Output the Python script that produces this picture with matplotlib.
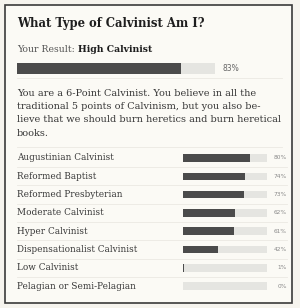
import matplotlib
matplotlib.use("Agg")
import matplotlib.pyplot as plt
from matplotlib.patches import Rectangle

# Data

title = "What Type of Calvinist Am I?"
result_label = "Your Result: "
result_name = "High Calvinist"
result_value = 83

description = [
    "You are a 6-Point Calvinist. You believe in all the",
    "traditional 5 points of Calvinism, but you also be-",
    "lieve that we should burn heretics and burn heretical",
    "books.",
]

categories = [
    "Augustinian Calvinist",
    "Reformed Baptist",
    "Reformed Presbyterian",
    "Moderate Calvinist",
    "Hyper Calvinist",
    "Dispensationalist Calvinist",
    "Low Calvinist",
    "Pelagian or Semi-Pelagian",
]
scores = [80, 74, 73, 62, 61, 42, 1, 0]

# Style
W, H = 300, 308
SERIF = "DejaVu Serif"
DARK = "#4b4b4b"
LIGHT = "#e5e5e1"
TEXT = "#383838"
RULE = "#ebe9e2"


def fx(px):
    return px / W


def fy(py):
    return 1 - py / H


fig = plt.figure(figsize=(W / 100, H / 100), dpi=100)
fig.patch.set_facecolor("#f6f4ee")

# background axes in pixel coordinates
bg = fig.add_axes([0, 0, 1, 1])
bg.set_xlim(0, W)
bg.set_ylim(H, 0)
bg.axis("off")

bg.add_patch(Rectangle((5, 5), 287, 298, facecolor="#fbfaf5",
                       edgecolor="#3a3a3a", linewidth=1.2))

bg.text(17, 24, title, fontsize=8.4, fontweight="bold", family=SERIF,
        color="#1e1e1e", va="center")
t = bg.text(17, 50, result_label, fontsize=6.7, family=SERIF,
            color="#555555", va="center")
fig.canvas.draw()
bb = t.get_window_extent()
bg.text(17 + bb.width, 50, result_name, fontsize=6.7, fontweight="bold",
        family=SERIF, color="#1e1e1e", va="center")

for i, line in enumerate(description):
    bg.text(17, 93 + i * 13.5, line, fontsize=7.0, family=SERIF,
            color=TEXT, va="center")

bg.plot([17, 282], [78, 78], color=RULE, linewidth=0.6)
bg.plot([17, 282], [147, 147], color=RULE, linewidth=0.6)

# top result bar
top = fig.add_axes([fx(17), fy(74), fx(198), 11 / H])
top.set_xlim(0, 100)
top.set_ylim(0, 1)
top.axis("off")
top.barh(0.5, 100, height=1, color=LIGHT)
top.barh(0.5, result_value, height=1, color=DARK)
top.text(1.04, 0.5, f"{result_value}%", transform=top.transAxes,
         fontsize=5.5, color="#666666", va="center", family="DejaVu Sans")

# breakdown bars
row0, row_step = 158, 18.3
n = len(categories)
ax = fig.add_axes([fx(183), fy(row0 + (n - 0.5) * row_step),
                   fx(84), n * row_step / H])
ax.set_xlim(0, 100)
ax.set_ylim(n - 0.5, -0.5)
ax.axis("off")
ypos = list(range(n))
ax.barh(ypos, [100] * n, height=0.41, color=LIGHT)
ax.barh(ypos, scores, height=0.41, color=DARK)

tr = ax.get_yaxis_transform()
for i, (cat, val) in enumerate(zip(categories, scores)):
    ax.text(-1.976, i, cat, transform=tr, fontsize=6.4, family=SERIF,
            color=TEXT, va="center", clip_on=False)
    ax.text(1.238, i, f"{val}%", transform=tr, fontsize=4.2,
            color="#8a8a8a", va="center", ha="right", clip_on=False)
    if i < n - 1:
        ax.plot([-1.976, 1.238], [i + 0.5, i + 0.5], transform=tr,
                color=RULE, linewidth=0.6, clip_on=False)

fig.savefig("out.png", dpi=100, facecolor=fig.get_facecolor())
